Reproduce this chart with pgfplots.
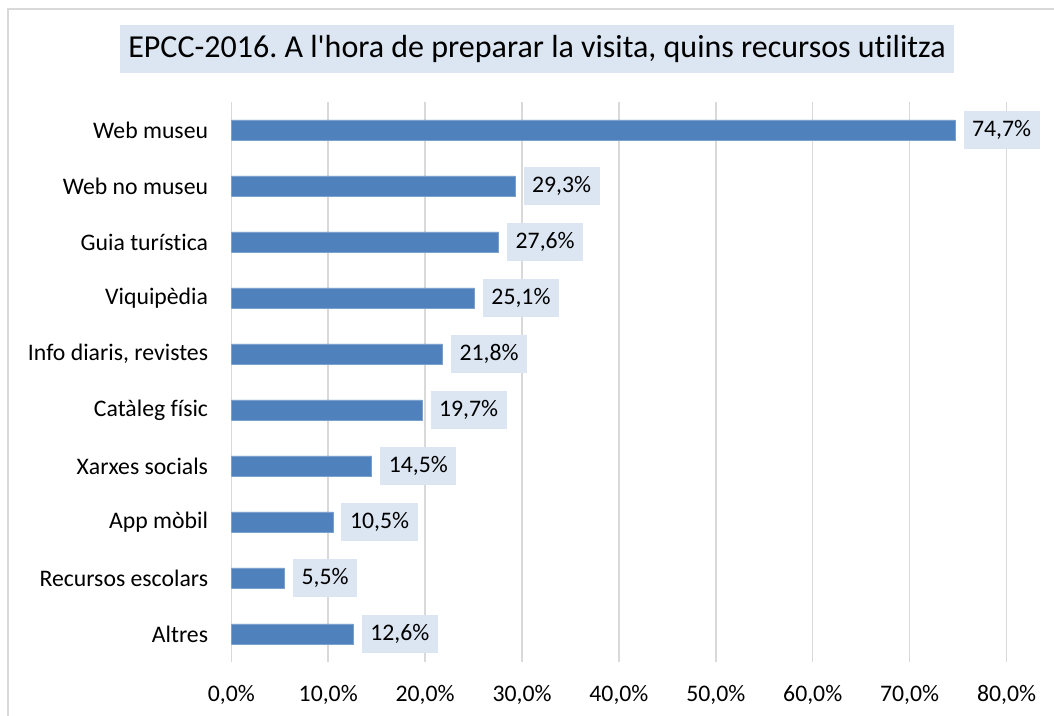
\documentclass[border=0pt]{standalone}
\usepackage{fontspec}
\setmainfont{Carlito}[Ligatures={TeX,NoCommon}]
\usepackage{pgfplots}
\pgfplotsset{compat=1.18}
\definecolor{barblue}{HTML}{4F81BD}
\definecolor{labelbg}{HTML}{DCE6F2}
\definecolor{gridgray}{HTML}{D9D9D9}

\begin{document}
\frenchspacing
\begin{tikzpicture}
\useasboundingbox (0,0) rectangle (790.5pt,537pt);
% outer frame (cut at right and bottom in the reference)
\draw[gridgray, line width=1.5pt] (6pt,0pt) -- (6pt,530.25pt) -- (790.5pt,530.25pt);
% title
\node[fill=labelbg, minimum width=625.5pt, minimum height=36pt, inner sep=0pt,
      font=\fontsize{24}{28}\selectfont] at (402.75pt,500.25pt)
      {EPCC-2016. A l\textquotesingle hora de preparar la visita, quins recursos utilitza};

\begin{axis}[
    at={(173.5pt,40.5pt)}, anchor=south west,
    scale only axis, width=581.4pt, height=420pt,
    xbar, bar width=15pt,
    xmin=0, xmax=80, ymin=-0.5, ymax=9.5, y dir=reverse,
    ytick={0,...,9},
    yticklabels={Web museu, Web no museu, Guia turística, Viquipèdia,
        {Info diaris, revistes}, Catàleg físic, Xarxes socials, App mòbil,
        Recursos escolars, Altres},
    xtick={0,10,...,80},
    xticklabel={\pgfmathprintnumber[fixed,fixed zerofill,precision=1,use comma]{\tick}\%},
    /pgf/number format/assume math mode=true,
    ticklabel style={font=\fontsize{17.8}{20}\selectfont},
    yticklabel style={anchor=east, inner sep=0pt, xshift=-17.25pt},
    xticklabel style={anchor=north, inner sep=0pt, yshift=-17pt},
    major tick length=0pt,
    axis line style={draw=none},
    xmajorgrids, grid style={gridgray, line width=1.1pt},
    point meta=x,
    nodes near coords={\pgfmathprintnumber[fixed,fixed zerofill,precision=1,use comma]{\pgfplotspointmeta}\%},
    every node near coord/.append style={anchor=west, fill=labelbg, text=black,
        inner xsep=6.4pt, inner ysep=0pt, minimum height=28.5pt, xshift=6pt,
        font=\fontsize{17.8}{20}\selectfont},
]
\addplot[fill=barblue, draw=barblue!75!white, line width=0.6pt] coordinates {
    (74.7,0) (29.3,1) (27.6,2) (25.1,3) (21.8,4)
    (19.7,5) (14.5,6) (10.5,7) (5.5,8) (12.6,9)
};
\end{axis}
\end{tikzpicture}
\end{document}
